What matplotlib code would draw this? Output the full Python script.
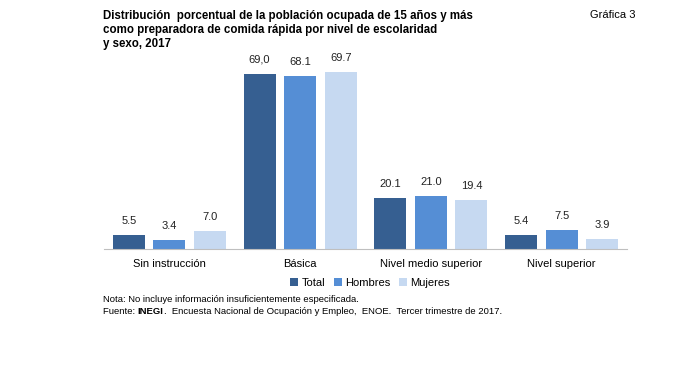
import numpy as np
import matplotlib.pyplot as plt

plt.rcParams['font.family'] = ['Liberation Sans', 'DejaVu Sans']

categorias = ["Sin instrucción", "Básica", "Nivel medio superior", "Nivel superior"]
total = [5.5, 69.0, 20.1, 5.4]
hombres = [3.4, 68.1, 21.0, 7.5]
mujeres = [7.0, 69.7, 19.4, 3.9]
etiquetas_total = ["5.5", "69,0", "20.1", "5.4"]
etiquetas_hombres = ["3.4", "68.1", "21.0", "7.5"]
etiquetas_mujeres = ["7.0", "69.7", "19.4", "3.9"]
series = ["Total", "Hombres", "Mujeres"]
colores = ["#365F91", "#558ED5", "#C6D9F1"]

fig = plt.figure(figsize=(6.77, 3.85), dpi=100)
ax = fig.add_axes([0.1536, 0.3532, 0.7725, 0.528])

x = np.arange(len(categorias))
w = 0.245
off = 0.31
for i, (vals, labs) in enumerate(zip([total, hombres, mujeres],
                                     [etiquetas_total, etiquetas_hombres, etiquetas_mujeres])):
    bars = ax.bar(x + (i - 1) * off, vals, w, color=colores[i], label=series[i])
    for b, lab in zip(bars, labs):
        ax.text(b.get_x() + b.get_width() / 2, b.get_height() + 3.5, lab,
                ha='center', va='bottom', fontsize=8, color='#222222')

ax.set_xlim(-0.5, 3.5)
ax.set_ylim(0, 80)
ax.set_xticks(x)
ax.set_xticklabels(categorias, fontsize=8)
ax.tick_params(axis='x', length=0, pad=7)
ax.set_yticks([])
for s in ['top', 'right', 'left']:
    ax.spines[s].set_visible(False)
ax.spines['bottom'].set_color('#BFBFBF')

fig.legend(loc='center', bbox_to_anchor=(370 / 677, 1 - 283 / 385), ncol=3,
           frameon=False, fontsize=8, handlelength=0.7, handleheight=0.7,
           handletextpad=0.3, columnspacing=0.8)

fig.text(103 / 677, 1 - 10 / 385,
         "Distribución  porcentual de la población ocupada de 15 años y más\n"
         "como preparadora de comida rápida por nivel de escolaridad\n"
         "y sexo, 2017",
         fontsize=8.3, fontweight='bold', va='top', ha='left', linespacing=1.25)
fig.text(590 / 677, 1 - 15 / 385, "Gráfica 3", fontsize=8, va='center', ha='left')

fig.text(103 / 677, 1 - 300 / 385,
         "Nota: No incluye información insuficientemente especificada.",
         fontsize=6.8, va='center', ha='left')

# línea de fuente con "INEGI" en negrita
r = fig.canvas.get_renderer()
t1 = fig.text(103 / 677, 1 - 312 / 385, "Fuente: ", fontsize=6.8, va='center', ha='left')
x1 = t1.get_window_extent(r).x1 / fig.bbox.width
t2 = fig.text(x1, 1 - 312 / 385, "INEGI", fontsize=6.8, fontweight='bold', va='center', ha='left')
x2 = t2.get_window_extent(r).x1 / fig.bbox.width
fig.text(x2, 1 - 312 / 385,
         ".  Encuesta Nacional de Ocupación y Empleo,  ENOE.  Tercer trimestre de 2017.",
         fontsize=6.8, va='center', ha='left')

fig.savefig("out.png", dpi=100)
